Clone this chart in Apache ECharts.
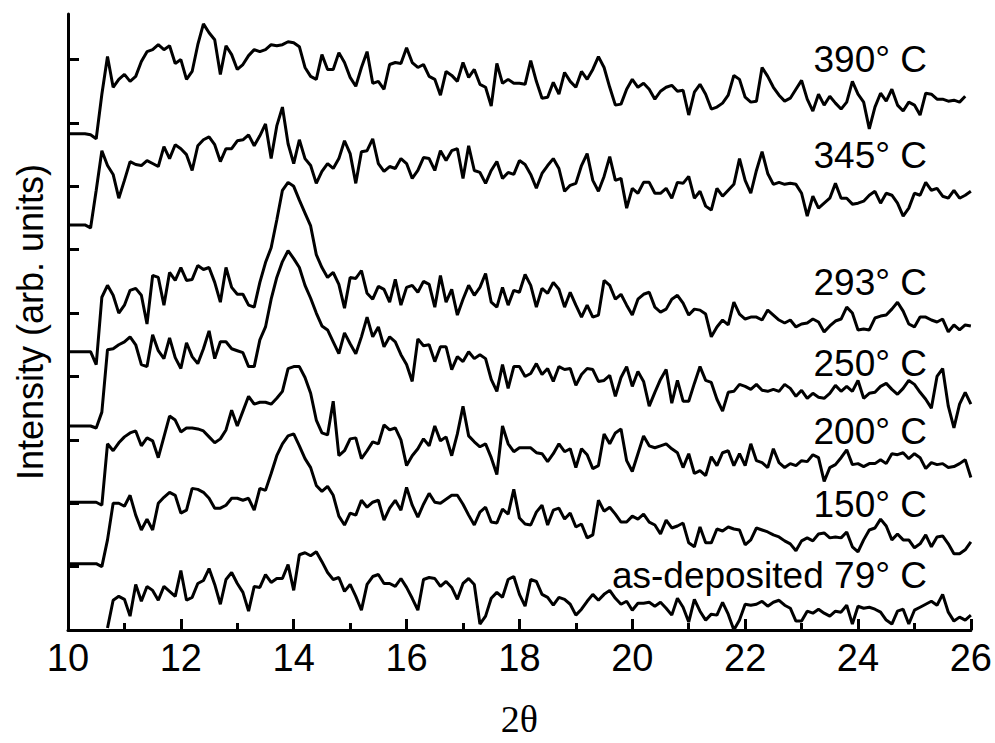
<!DOCTYPE html>
<html>
<head>
<meta charset="utf-8">
<title>XRD patterns after annealing</title>
<script src="https://cdn.jsdelivr.net/npm/echarts@6/dist/echarts.min.js"></script>
<style>
  html, body { margin: 0; padding: 0; background: #fff; }
  #chart { width: 995px; height: 743px; }
</style>
</head>
<body>
<div id="chart"></div>
<script>
// 2theta sampling positions (degrees)
var twoTheta = [
  10.0,10.1,10.2,10.3,10.4,10.5,10.6,10.7,10.8,10.9,
  11.0,11.1,11.2,11.3,11.4,11.5,11.6,11.7,11.8,11.9,
  12.0,12.1,12.2,12.3,12.4,12.5,12.6,12.7,12.8,12.9,
  13.0,13.1,13.2,13.3,13.4,13.5,13.6,13.7,13.8,13.9,
  14.0,14.1,14.2,14.3,14.4,14.5,14.6,14.7,14.8,14.9,
  15.0,15.1,15.2,15.3,15.4,15.5,15.6,15.7,15.8,15.9,
  16.0,16.1,16.2,16.3,16.4,16.5,16.6,16.7,16.8,16.9,
  17.0,17.1,17.2,17.3,17.4,17.5,17.6,17.7,17.8,17.9,
  18.0,18.1,18.2,18.3,18.4,18.5,18.6,18.7,18.8,18.9,
  19.0,19.1,19.2,19.3,19.4,19.5,19.6,19.7,19.8,19.9,
  20.0,20.1,20.2,20.3,20.4,20.5,20.6,20.7,20.8,20.9,
  21.0,21.1,21.2,21.3,21.4,21.5,21.6,21.7,21.8,21.9,
  22.0,22.1,22.2,22.3,22.4,22.5,22.6,22.7,22.8,22.9,
  23.0,23.1,23.2,23.3,23.4,23.5,23.6,23.7,23.8,23.9,
  24.0,24.1,24.2,24.3,24.4,24.5,24.6,24.7,24.8,24.9,
  25.0,25.1,25.2,25.3,25.4,25.5,25.6,25.7,25.8,25.9,
  26.0
];

// intensities (arb. units, curves already offset)
var i390 = [
  501,501,501,501,500,496,541,579,548,556,
  561,554,559,574,584,586,591,586,590,572,
  576,556,564,591,612,603,596,561,590,581,
  566,571,580,586,584,586,591,590,591,594,
  593,589,568,559,556,581,566,566,583,573,
  558,549,568,584,552,554,546,571,573,572,
  588,573,568,571,559,556,540,564,560,554,
  573,558,566,551,548,529,572,552,556,552,
  552,551,575,554,537,538,553,541,563,554,
  548,564,556,566,579,568,548,530,531,546,
  556,548,552,546,536,544,548,550,544,545,
  520,543,551,541,526,528,532,540,560,556,
  538,533,534,568,559,548,540,534,537,546,
  555,536,524,541,530,539,532,526,533,554,
  541,533,506,528,542,534,546,530,524,533,
  530,520,542,541,536,536,534,535,533,539,
  null
];
var i345 = [
  409,409,409,409,406,444,484,469,460,436,
  454,473,470,469,474,471,468,488,476,490,
  486,480,464,489,495,498,490,473,486,486,
  494,495,500,489,499,511,476,509,528,491,
  471,495,476,469,451,463,471,466,476,494,
  481,451,483,484,496,471,463,468,466,476,
  471,456,464,477,476,464,484,474,484,486,
  456,489,464,462,451,464,473,456,462,460,
  474,470,460,446,461,469,476,466,443,449,
  451,469,481,454,443,458,478,454,456,426,
  446,441,452,452,441,441,446,436,452,451,
  458,436,443,428,424,446,438,444,450,476,
  454,441,464,483,461,450,452,450,451,450,
  441,418,438,426,431,436,451,436,436,430,
  431,433,439,443,431,441,439,431,418,426,
  441,439,452,444,446,438,436,444,436,439,
  443
];
var i293 = [
  281,281,281,281,281,268,336,348,338,320,
  328,343,345,338,309,358,356,328,361,353,
  366,353,354,368,364,366,351,331,366,346,
  339,339,328,326,351,371,386,414,444,452,
  448,434,421,408,379,366,356,361,349,325,
  356,355,363,340,334,347,344,331,354,328,
  346,348,341,352,349,326,358,331,344,318,
  334,348,338,346,360,331,326,346,328,343,
  341,359,348,326,345,340,351,344,326,341,
  328,316,328,316,318,353,348,334,339,328,
  318,334,339,341,326,321,324,334,338,330,
  318,324,323,319,296,306,313,308,331,319,
  314,316,316,313,323,318,313,310,313,306,
  309,310,314,311,301,307,312,314,326,320,
  303,304,303,315,317,318,324,331,322,309,
  306,316,316,313,311,314,301,308,303,308,
  307
];
var i250 = [
  206,206,206,206,206,204,220,283,284,288,
  291,296,288,268,266,298,282,274,295,275,
  264,290,276,269,284,302,274,291,291,284,
  282,280,266,266,293,306,334,356,372,383,
  375,366,348,335,320,307,303,291,279,300,
  289,279,296,316,296,306,286,296,291,278,
  268,251,294,287,288,271,286,286,263,276,
  271,281,274,278,274,253,241,268,244,266,
  266,256,259,269,258,264,251,266,263,264,
  247,258,264,263,251,252,257,236,255,266,
  246,261,251,226,240,253,263,229,252,231,
  231,249,266,252,250,233,221,240,241,248,
  246,243,248,242,241,243,241,248,244,236,
  242,234,239,235,234,239,247,241,246,241,
  252,234,239,240,246,249,243,238,244,252,
  248,240,233,224,256,264,226,204,228,240,
  228
];
var i200 = [
  129,129,129,129,129,129,126,188,181,189,
  195,199,201,186,194,191,174,195,216,212,
  200,204,204,203,201,195,189,193,202,222,
  206,221,236,228,230,230,228,234,241,264,
  266,266,255,239,212,199,197,231,176,181,
  193,194,173,181,190,188,207,202,204,192,
  166,176,183,193,186,206,191,195,176,198,
  226,196,190,185,188,174,157,206,188,180,
  184,184,184,179,178,170,178,188,180,183,
  164,183,177,163,166,198,188,199,203,171,
  160,178,196,186,184,186,188,183,179,164,
  178,158,161,156,175,166,179,181,166,178,
  166,188,171,169,164,183,169,164,168,166,
  171,170,177,174,150,164,167,174,182,167,
  168,165,168,168,172,168,178,177,179,173,
  178,174,163,169,167,168,164,165,168,172,
  154
];
var i150 = [
  67,67,67,67,67,67,64,91,128,128,
  125,136,116,101,112,101,128,134,139,136,
  118,121,143,142,139,133,123,123,126,133,
  133,131,133,121,143,141,158,176,188,196,
  198,186,173,164,146,140,145,136,115,106,
  118,116,131,124,129,131,111,123,131,121,
  144,126,114,127,138,129,128,132,136,136,
  127,116,106,119,124,109,108,122,117,142,
  113,107,106,119,126,106,121,123,112,118,
  104,107,93,96,131,120,124,117,109,109,
  115,112,117,109,106,97,111,103,105,108,
  88,84,104,88,88,102,100,104,102,101,
  86,91,103,101,99,96,94,90,87,80,
  90,93,90,97,98,93,94,93,99,84,
  79,91,101,103,112,105,91,97,91,91,
  83,87,96,84,94,95,87,77,77,81,
  89
];
var i79 = [
  null,null,null,null,null,null,null,2,30,34,
  31,14,46,29,44,40,30,44,39,34,
  60,30,33,47,50,62,46,26,51,58,
  47,38,19,44,43,56,48,52,52,66,
  40,76,78,75,79,69,58,51,53,39,
  46,34,20,46,54,56,47,47,44,52,
  43,32,20,51,53,52,44,49,43,31,
  47,52,46,6,14,32,38,33,51,54,
  36,24,51,49,36,33,25,33,31,26,
  15,21,29,36,30,36,40,32,26,29,
  20,27,27,28,24,28,22,15,32,23,
  8,31,19,10,16,15,28,16,0,10,
  26,25,26,29,24,28,30,25,22,9,
  9,19,17,21,17,14,19,18,25,6,
  24,22,23,21,18,10,6,19,21,6,
  20,23,26,29,25,36,18,9,13,10,
  15
];

var curveNames = ['390° C', '345° C', '293° C', '250° C', '200° C', '150° C', 'as-deposited 79° C'];
var yTicks = [64, 128, 192, 256, 320, 384, 448, 512, 576];

var curves = [i390, i345, i293, i250, i200, i150, i79];
// vertical centre (px) of each curve label, right aligned
var labelTop = [61, 157, 284, 365, 433, 506, 577];

var sansFont = '"Liberation Sans Narrow", "Arial Narrow", "Liberation Sans", sans-serif';

var chart = echarts.init(document.getElementById('chart'), null, { renderer: 'svg' });

var series = curves.map(function (vals, k) {
  return {
    name: curveNames[k],
    type: 'line',
    symbol: 'none',
    silent: true,
    lineStyle: { color: '#000', width: 3 },
    itemStyle: { color: '#000' },
    data: twoTheta.map(function (t, i) { return [t, vals[i]]; })
  };
});

var option = {
  animation: false,
  backgroundColor: '#fff',
  grid: { left: 68, right: 23, top: 14, bottom: 107 },
  xAxis: {
    type: 'value', min: 10, max: 26, interval: 2,
    axisLine: { lineStyle: { color: '#000', width: 3 } },
    axisTick: { inside: true, length: 11, lineStyle: { color: '#000', width: 3 } },
    minorTick: { show: true, splitNumber: 2, length: 7, lineStyle: { color: '#000', width: 3 } },
    splitLine: { show: false },
    axisLabel: { color: '#000', fontSize: 38, fontFamily: sansFont, margin: 9 },
    name: '2θ', nameLocation: 'middle', nameGap: 70,
    nameTextStyle: { color: '#000', fontSize: 38, fontFamily: '"Liberation Serif", serif' }
  },
  yAxis: {
    type: 'value', min: 0, max: 622,
    axisLine: { show: true, lineStyle: { color: '#000', width: 3 } },
    axisTick: { show: true, inside: true, length: 11, customValues: yTicks, lineStyle: { color: '#000', width: 3 } },
    axisLabel: { show: false },
    splitLine: { show: false },
    name: 'Intensity (arb. units)', nameLocation: 'middle', nameRotate: 90, nameGap: 20,
    nameTextStyle: { color: '#000', fontSize: 36, fontFamily: sansFont }
  },
  graphic: curveNames.map(function (txt, k) {
    return {
      type: 'text', right: 68, top: labelTop[k] - 20, silent: true,
      style: { text: txt, fill: '#000', fontSize: 37, fontFamily: sansFont }
    };
  }),
  series: series
};

chart.setOption(option);
window.addEventListener('resize', chart.resize);
</script>
</body>
</html>
